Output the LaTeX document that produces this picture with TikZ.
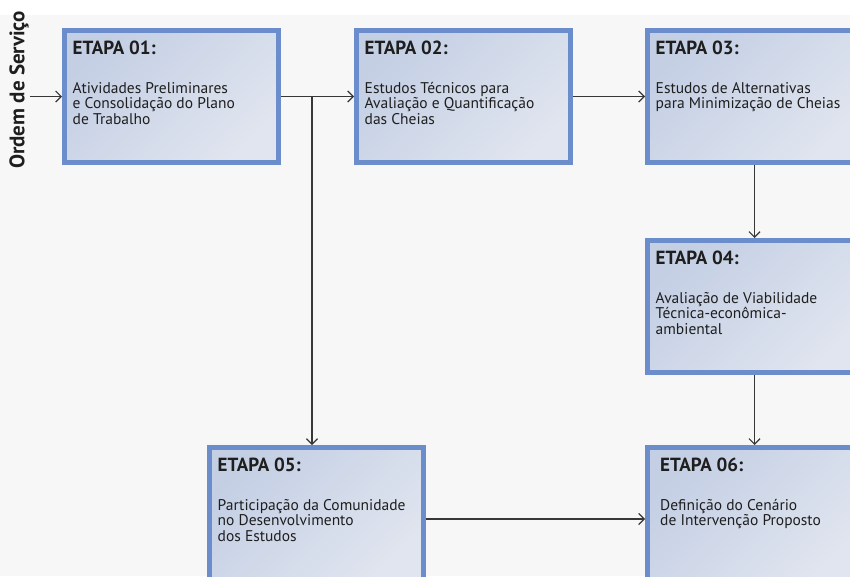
\documentclass[tikz,border=0pt]{standalone}
\usepackage{fontspec}
\setmainfont{PT Sans}
\usetikzlibrary{arrows.meta}

\definecolor{etapaborda}{RGB}{108,141,203}
\definecolor{etapaescuro}{RGB}{196,207,228}
\definecolor{etapaclaro}{RGB}{224,229,239}
\definecolor{setacor}{RGB}{55,55,55}
\definecolor{fundo}{RGB}{247,247,247}
\definecolor{letra}{RGB}{30,30,30}

\tikzset{
  etapa/.style={draw=etapaborda, line width=5pt, minimum width=214pt,
    minimum height=132pt, top color=etapaescuro, bottom color=etapaclaro,
    shading angle=45, inner sep=0pt},
  titulo/.style={anchor=north west, inner sep=0pt, text=letra,
    font=\bfseries\fontsize{19}{22}\selectfont},
  texto/.style={anchor=north west, inner sep=0pt, align=left, text=letra,
    font=\fontsize{15.5}{15.5}\selectfont},
  seta/.style={draw=setacor, line width=1.2pt,
    -{Straight Barb[length=5.5pt,width=11pt]}},
}

\begin{document}
\begin{tikzpicture}[x=1pt,y=1pt]
    \useasboundingbox (0,0) rectangle (850,-576);
    \fill[fundo] (0,-15) rectangle (850,-576);

    % etapas
    \node[etapa] (e1) at (171.5,-96.5) {};
    \node[etapa] (e2) at (463.5,-96.5) {};
    \node[etapa] (e3) at (754.5,-96.5) {};
    \node[etapa] (e4) at (754.5,-306.5) {};
    \node[etapa] (e5) at (316.5,-513.5) {};
    \node[etapa] (e6) at (754.5,-513.5) {};

    \node[titulo] (t1) at ([xshift=10.5pt,yshift=-13pt]e1.north west) {ETAPA 01:};
    \node[texto] (d1) at ([xshift=10.5pt,yshift=-54pt]e1.north west)
        {Atividades Preliminares\\e Consolidação do Plano\\de Trabalho};

    \node[titulo] (t2) at ([xshift=10.5pt,yshift=-13pt]e2.north west) {ETAPA 02:};
    \node[texto] (d2) at ([xshift=10.5pt,yshift=-54pt]e2.north west)
        {Estudos Técnicos para\\Avaliação e Quantificação\\das Cheias};

    \node[titulo] (t3) at ([xshift=10.5pt,yshift=-13pt]e3.north west) {ETAPA 03:};
    \node[texto] (d3) at ([xshift=10.5pt,yshift=-54pt]e3.north west)
        {Estudos de Alternativas\\para Minimização de Cheias};

    \node[titulo] (t4) at ([xshift=10.5pt,yshift=-13pt]e4.north west) {ETAPA 04:};
    \node[texto] (d4) at ([xshift=10.5pt,yshift=-54pt]e4.north west)
        {Avaliação de Viabilidade\\Técnica-econômica-\\ambiental};

    \node[titulo] (t5) at ([xshift=10.5pt,yshift=-13pt]e5.north west) {ETAPA 05:};
    \node[texto] (d5) at ([xshift=10.5pt,yshift=-54pt]e5.north west)
        {Participação da Comunidade\\no Desenvolvimento\\dos Estudos};

    \node[titulo] (t6) at ([xshift=15pt,yshift=-13pt]e6.north west) {ETAPA 06:};
    \node[texto] (d6) at ([xshift=15pt,yshift=-54pt]e6.north west)
        {Definição do Cenário\\de Intervenção Proposto};

    % entrada
    \node[rotate=90, inner sep=0pt, text=letra,
        font=\bfseries\fontsize{21}{21}\selectfont] (os) at (19,-90) {Ordem de Serviço};

    % ligacoes
    \draw[seta] ([xshift=1pt]os.south |- e1.west) -- (e1.west);
    \draw[seta] (e1.east) -- (e2.west);
    \draw[seta] (e2.east) -- (e3.west);
    \draw[seta] ([xshift=-4.5pt]e5.north |- e1.east) -- ([xshift=-4.5pt]e5.north);
    \draw[seta] (e3.south) -- (e4.north);
    \draw[seta] (e4.south) -- (e6.north);
    \draw[seta] ([yshift=-5.5pt]e5.east) -- ([yshift=-5.5pt]e5.east -| e6.west);
\end{tikzpicture}
\end{document}
